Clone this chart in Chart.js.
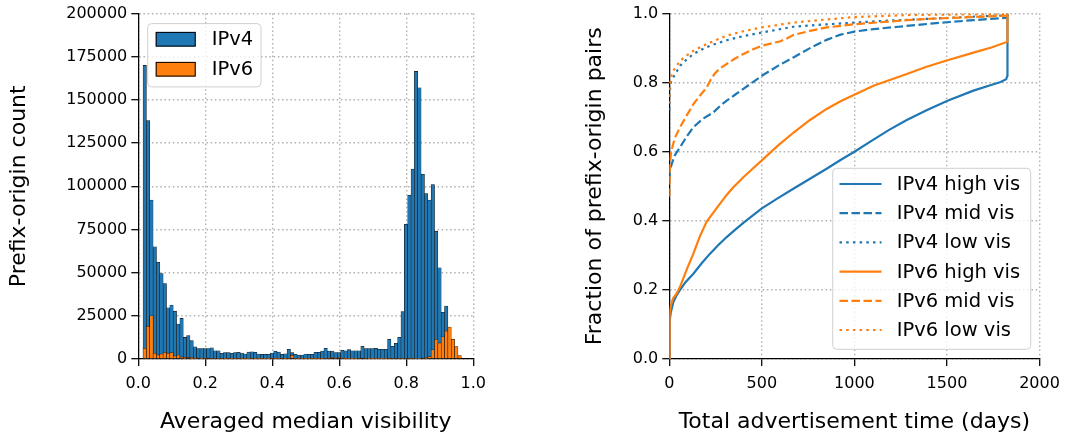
<!DOCTYPE html>
<html>
<head>
<meta charset="utf-8">
<script src="https://cdn.jsdelivr.net/npm/chart.js@4.4.1/dist/chart.umd.min.js"></script>
<style>
  html, body { margin: 0; padding: 0; background: #fff; }
  #wrap { position: relative; width: 1068px; height: 435px; }
  canvas { position: absolute; top: 0; }
  #histChart { left: 0; }
  #cdfChart { left: 534px; }
</style>
</head>
<body>
<div id="wrap">
  <canvas id="histChart" width="534" height="435"></canvas>
  <canvas id="cdfChart" width="534" height="435"></canvas>
</div>
<script>
// ---- histogram data: prefix-origin counts per visibility bin ----
const binEdge0 = 0.0042;
const binWidth = 0.01;
const ipv4Counts = [
  0, 170000, 138000, 92000, 65000, 56000, 49500, 43700, 29700, 31200,
  27700, 20200, 23500, 12500, 13500, 10600, 7100, 6000, 6000, 6000,
  6000, 6500, 4800, 4800, 3300, 3700, 3700, 3300, 3700, 3900,
  3500, 2900, 4000, 4200, 3900, 2900, 2700, 2700, 2700, 3500,
  4400, 4000, 2700, 3000, 5600, 3700, 2700, 2300, 2300, 2900,
  2700, 2700, 3900, 3900, 4600, 6200, 4600, 4600, 3700, 3700,
  5000, 4800, 5400, 4800, 4800, 4800, 7300, 6000, 6000, 6000,
  6200, 5600, 5600, 5600, 11400, 7300, 9100, 12600, 27400, 78000,
  94800, 110000, 166500, 157000, 107000, 95800, 92000, 101000, 74000, 52800,
  27000, 30600, 0, 0, 0, 0, 0, 0, 0, 0
];
const ipv6Counts = [
  0, 6200, 19000, 25000, 3300, 2300, 2900, 3900, 3300, 3700,
  1700, 2300, 1200, 1000, 800, 1000, 600, 500, 600, 400,
  500, 300, 400, 300, 300, 200, 300, 200, 200, 300,
  600, 200, 200, 300, 200, 200, 200, 200, 200, 300,
  200, 200, 300, 200, 300, 2200, 300, 200, 200, 200,
  200, 200, 200, 200, 200, 300, 300, 900, 300, 900,
  300, 200, 200, 200, 200, 300, 500, 300, 200, 200,
  200, 200, 200, 200, 300, 300, 300, 300, 300, 300,
  300, 300, 400, 400, 500, 700, 1400, 5300, 11400, 9300,
  12800, 16200, 18500, 11400, 7200, 2000, 0, 0, 0, 0
];
const visTicks = [0, 1, 0.2];          // min, max, step
const countTicks = [0, 200000, 25000];

// ---- CDF data: [days, fraction] ----
const ipv4High = [[0, 0], [0.5, 0.07], [3, 0.11], [8, 0.135], [22, 0.165], [40, 0.185], [58, 0.2],
  [90, 0.224], [130, 0.247], [175, 0.277], [220, 0.305], [265, 0.33], [310, 0.353], [355, 0.374],
  [400, 0.394], [450, 0.415], [500, 0.436], [585, 0.465], [670, 0.493], [760, 0.522], [850, 0.551],
  [925, 0.576], [1000, 0.6], [1103, 0.635], [1190, 0.664], [1283, 0.692], [1390, 0.72],
  [1503, 0.748], [1643, 0.777], [1730, 0.792], [1790, 0.802], [1820, 0.81], [1826, 0.82],
  [1827, 1.0]];
const ipv4Mid = [[0, 0.52], [3, 0.545], [13, 0.565], [30, 0.59], [58, 0.613], [95, 0.645],
  [130, 0.671], [180, 0.695], [238, 0.714], [275, 0.733], [310, 0.748], [355, 0.765], [400, 0.782],
  [450, 0.801], [500, 0.82], [585, 0.848], [670, 0.873], [760, 0.9], [850, 0.924], [925, 0.939],
  [1000, 0.948], [1103, 0.955], [1240, 0.962], [1372, 0.969], [1500, 0.975], [1643, 0.981],
  [1824, 0.988], [1827, 1.0]];
const ipv4Low = [[0, 0.72], [2, 0.77], [8, 0.8], [21, 0.815], [58, 0.849], [95, 0.868],
  [130, 0.883], [175, 0.896], [220, 0.907], [310, 0.923], [400, 0.935], [500, 0.945],
  [670, 0.962], [850, 0.969], [1000, 0.974], [1200, 0.98], [1400, 0.985], [1600, 0.99],
  [1824, 0.995], [1827, 1.0]];
const ipv6High = [[0, 0], [0.5, 0.08], [3, 0.13], [8, 0.155], [20, 0.175], [40, 0.19], [58, 0.209],
  [95, 0.26], [130, 0.305], [165, 0.355], [202, 0.398], [240, 0.425], [274, 0.45], [310, 0.475],
  [346, 0.497], [400, 0.526], [450, 0.551], [500, 0.575], [585, 0.617], [670, 0.655],
  [760, 0.692], [850, 0.724], [925, 0.746], [1000, 0.765], [1103, 0.791], [1283, 0.825],
  [1390, 0.846], [1503, 0.865], [1643, 0.887], [1740, 0.902], [1824, 0.918], [1826, 0.92],
  [1827, 1.0]];
const ipv6Mid = [[0, 0.47], [3, 0.56], [10, 0.6], [30, 0.64], [58, 0.671], [95, 0.706],
  [130, 0.738], [165, 0.762], [202, 0.786], [225, 0.81], [245, 0.826], [275, 0.842], [310, 0.854],
  [355, 0.87], [400, 0.883], [450, 0.896], [500, 0.907], [600, 0.92], [635, 0.928], [670, 0.938],
  [760, 0.95], [850, 0.96], [1000, 0.969], [1140, 0.975], [1283, 0.981], [1450, 0.986],
  [1643, 0.99], [1824, 0.994], [1827, 1.0]];
const ipv6Low = [[0, 0.74], [2, 0.79], [8, 0.815], [21, 0.834], [58, 0.863], [95, 0.879],
  [130, 0.892], [175, 0.905], [220, 0.916], [310, 0.936], [400, 0.949], [500, 0.96],
  [670, 0.974], [850, 0.983], [1000, 0.99], [1300, 0.996], [1824, 0.999], [1827, 1.0]];
const dayTicks = [0, 2000, 500];
const fracTicks = [0, 1, 0.2];

const BLUE = '#1f77b4';
const ORANGE = '#ff7f0e';
const FONT = 'DejaVu Sans';
const TICK_SIZE = 16;
const LABEL_SIZE = 22;
const LEGEND_SIZE = 19.5;

Chart.defaults.font.family = FONT;
Chart.defaults.color = '#000';

function binCenter(i) {
  return binEdge0 + (i + 0.5) * binWidth;
}
const toBars = counts => counts.map((c, i) => ({ x: binCenter(i), y: c }));
const toPoints = pairs => pairs.map(p => ({ x: p[0], y: p[1] }));

// shared matplotlib-ish axis look: dotted grid, solid spine, outward ticks
function axis(range, fmt, title, titlePad, tickPad, fitSize) {
  return {
    type: 'linear',
    min: range[0],
    max: range[1],
    offset: false,
    ticks: {
      stepSize: range[2],
      callback: fmt,
      font: { size: TICK_SIZE },
      color: '#000',
      padding: tickPad,
      autoSkip: false,
      maxRotation: 0
    },
    grid: {
      color: '#b0b0b0',
      lineWidth: 1.4,
      offset: false,
      tickColor: '#000',
      tickWidth: 1.25,
      tickLength: 7,
      tickBorderDash: []
    },
    border: { display: true, color: '#000', width: 1.25, dash: [1.5, 2.7] },
    title: {
      display: true,
      text: title,
      font: { size: LABEL_SIZE },
      color: '#000',
      padding: titlePad
    },
    afterFit: fitSize
  };
}

function legendBox(ctx, x, y, w, h) {
  ctx.save();
  ctx.beginPath();
  ctx.roundRect(x, y, w, h, 4);
  ctx.fillStyle = 'rgba(255,255,255,0.8)';
  ctx.fill();
  ctx.strokeStyle = '#d0d0d0';
  ctx.lineWidth = 1;
  ctx.stroke();
  ctx.restore();
}

// legend in the upper-left corner with filled patches
const histLegend = {
  id: 'histLegend',
  afterDraw(chart) {
    const { ctx, chartArea } = chart;
    const x = chartArea.left + 9.4;
    const y = chartArea.top + 10;
    legendBox(ctx, x, y, 113.3, 63.3);
    ctx.save();
    ctx.font = LEGEND_SIZE + 'px "' + FONT + '"';
    ctx.textBaseline = 'middle';
    chart.data.datasets.forEach((ds, i) => {
      const ry = y + 8.3 + i * 30;
      ctx.fillStyle = ds.backgroundColor;
      ctx.fillRect(x + 8, ry, 40, 14.7);
      ctx.strokeStyle = '#000';
      ctx.lineWidth = 1;
      ctx.strokeRect(x + 8.5, ry + 0.5, 39, 13.7);
      ctx.fillStyle = '#000';
      ctx.fillText(ds.label, x + 64, ry + 8);
    });
    ctx.restore();
  }
};

// legend in the lower-right corner with line samples
const cdfLegend = {
  id: 'cdfLegend',
  afterDraw(chart) {
    const { ctx, chartArea } = chart;
    const w = 198, h = 181;
    const x = chartArea.right - 8.8 - w;
    const y = chartArea.bottom - 9.7 - h;
    legendBox(ctx, x, y, w, h);
    ctx.save();
    ctx.font = LEGEND_SIZE + 'px "' + FONT + '"';
    ctx.textBaseline = 'middle';
    chart.data.datasets.forEach((ds, i) => {
      const ry = y + 15.7 + i * 29.2;
      ctx.save();
      ctx.strokeStyle = ds.borderColor;
      ctx.lineWidth = ds.borderWidth;
      ctx.setLineDash(ds.borderDash || []);
      ctx.beginPath();
      ctx.moveTo(x + 6.8, ry);
      ctx.lineTo(x + 48.8, ry);
      ctx.stroke();
      ctx.restore();
      ctx.fillStyle = '#000';
      ctx.fillText(ds.label, x + 64, ry + 1);
    });
    ctx.restore();
  }
};

new Chart(document.getElementById('histChart'), {
  type: 'bar',
  data: {
    datasets: [
      {
        label: 'IPv4',
        data: toBars(ipv4Counts),
        backgroundColor: BLUE,
        borderColor: '#111',
        borderWidth: 0.55,
        grouped: false,
        barPercentage: 1,
        categoryPercentage: 1,
        order: 1
      },
      {
        label: 'IPv6',
        data: toBars(ipv6Counts),
        backgroundColor: ORANGE,
        borderColor: '#111',
        borderWidth: 0.55,
        grouped: false,
        barPercentage: 1,
        categoryPercentage: 1,
        order: 0
      }
    ]
  },
  options: {
    responsive: false,
    animation: false,
    events: [],
    layout: { padding: { left: 0, right: 60.7, top: 12.7, bottom: 0 } },
    plugins: { legend: { display: false }, tooltip: { enabled: false } },
    scales: {
      x: axis(visTicks, v => v.toFixed(1), 'Averaged median visibility',
        { top: 4, bottom: 0 }, 8, s => { s.height = 76; }),
      y: axis(countTicks, v => String(v), 'Prefix-origin count',
        { top: 6.5, bottom: 0 }, 4, s => { s.width = 138.3; })
    }
  },
  plugins: [histLegend]
});

const cdfSeries = [
  ['IPv4 high vis', ipv4High, BLUE, []],
  ['IPv4 mid vis', ipv4Mid, BLUE, [8.5, 3.5]],
  ['IPv4 low vis', ipv4Low, BLUE, [2.5, 4.2]],
  ['IPv6 high vis', ipv6High, ORANGE, []],
  ['IPv6 mid vis', ipv6Mid, ORANGE, [8.5, 3.5]],
  ['IPv6 low vis', ipv6Low, ORANGE, [2.5, 4.2]]
];

new Chart(document.getElementById('cdfChart'), {
  type: 'line',
  data: {
    datasets: cdfSeries.map((s, i) => ({
      label: s[0],
      data: toPoints(s[1]),
      borderColor: s[2],
      borderDash: s[3],
      borderWidth: 2.2,
      pointRadius: 0,
      tension: 0,
      fill: false,
      order: cdfSeries.length - 1 - i
    }))
  },
  options: {
    responsive: false,
    animation: false,
    events: [],
    layout: { padding: { left: 0, right: 28.5, top: 12.7, bottom: 0 } },
    plugins: { legend: { display: false }, tooltip: { enabled: false } },
    scales: {
      x: axis(dayTicks, v => String(v), 'Total advertisement time (days)',
        { top: 4, bottom: 0 }, 8, s => { s.height = 76; }),
      y: axis(fracTicks, v => v.toFixed(1), 'Fraction of prefix-origin pairs',
        { top: 48, bottom: 0 }, 4, s => { s.width = 135.3; })
    }
  },
  plugins: [cdfLegend]
});
</script>
</body>
</html>
